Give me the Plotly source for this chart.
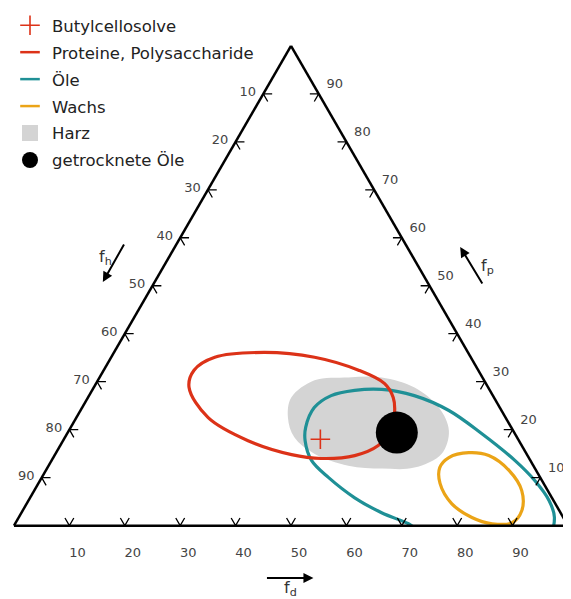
import plotly.graph_objects as go

# ---------------- data (percent; fh = 100 - fd - fp) ----------------
tick_values = [10, 20, 30, 40, 50, 60, 70, 80, 90]
tick_labels = [str(t) for t in tick_values]

butyl_fd = [46.3]
butyl_fp = [18.0]

dried_oil_fd = [59.4]
dried_oil_fp = [19.4]

protein_fd = [58.1, 57.4, 54.2, 48.5, 42.7, 33.4, 23.8, 17.2, 16.3, 18.7, 27.1, 36.7, 46.0, 52.1, 55.1, 56.9, 58.1]
protein_fp = [19.8, 16.7, 14.6, 14.0, 14.8, 17.7, 22.5, 28.8, 32.4, 35.1, 36.1, 35.1, 32.4, 29.6, 26.7, 23.6, 19.8]

oil_fd = [88.3, 80.0, 72.5, 71.0, 65.0, 58.6, 51.8, 46.9, 43.7, 42.4, 41.9, 43.7, 47.4, 52.2, 58.7, 66.5,
          74.8, 83.6, 89.3, 94.0, 96.7, 97.7, 95.2, 88.3]
oil_fp = [-5.8, -3.8, -0.4, 0.4, 2.7, 5.8, 10.0, 13.6, 17.7, 20.5, 24.6, 27.1, 28.2, 28.4, 27.1, 24.0,
          19.2, 13.6, 9.4, 5.2, 1.7, -2.1, -5.2, -5.8]

wax_fd = [74.5, 78.4, 83.6, 88.0, 90.1, 89.6, 86.1, 81.8, 76.7, 72.5, 70.8, 71.4, 74.5]
wax_fp = [15.2, 14.6, 11.5, 7.3, 3.1, 0.6, 0.4, 1.7, 4.6, 8.8, 12.1, 14.2, 15.2]

resin_fd = [36.7, 39.1, 44.9, 50.9, 57.9, 64.4, 68.6, 69.7, 66.2, 60.5, 54.1, 46.7, 41.4, 38.2, 36.7]
resin_fp = [26.7, 30.3, 30.9, 30.9, 28.8, 24.6, 19.8, 15.0, 12.1, 11.9, 12.5, 15.0, 18.4, 22.5, 26.7]

# ---------------- styling constants ----------------
RED = "#dc3218"
TEAL = "#1f9096"
ORANGE = "#eba417"
GREY = "#d4d4d4"
FONT = "DejaVu Sans, Liberation Sans, Arial, sans-serif"
CHEV = 1.6          # chevron arm length (ternary units)
PAGE = 8            # default page margin around the figure
W, H = 571 - PAGE, 599 - PAGE


def fh_of(fd, fp):
    return [None if (d is None or p is None) else 100 - d - p for d, p in zip(fd, fp)]


def tern(fd, fp, **kw):
    return go.Scatterternary(a=fp, b=fh_of(fd, fp), c=fd, **kw)


fig = go.Figure()

# Harz (filled region)
fig.add_trace(tern(resin_fd, resin_fp, mode="lines", fill="toself", fillcolor=GREY,
                   line=dict(color=GREY, width=0, shape="spline"), showlegend=False,
                   hoverinfo="skip"))
# Öle
fig.add_trace(tern(oil_fd, oil_fp, mode="lines", line=dict(color=TEAL, width=3.2, shape="spline"),
                   showlegend=False, hoverinfo="skip"))
# Proteine, Polysaccharide
fig.add_trace(tern(protein_fd, protein_fp, mode="lines", line=dict(color=RED, width=3.2, shape="spline"),
                   showlegend=False, hoverinfo="skip"))
# Wachs
fig.add_trace(tern(wax_fd, wax_fp, mode="lines", line=dict(color=ORANGE, width=3.2, shape="spline"),
                   showlegend=False, hoverinfo="skip"))

# chevron ticks on the three edges
ch_fd, ch_fp = [], []
for t in tick_values:
    # bottom edge (fd)
    ch_fd += [t, t, t - CHEV, None]
    ch_fp += [CHEV, 0, CHEV, None]
    # left edge (fh = t, fd = 0)
    ch_fd += [CHEV, 0, CHEV, None]
    ch_fp += [100 - t, 100 - t, 100 - t - CHEV, None]
    # right edge (fp = t, fh = 0)
    ch_fd += [100 - t - CHEV, 100 - t, 100 - t, None]
    ch_fp += [t, t, t - CHEV, None]
fig.add_trace(tern(ch_fd, ch_fp, mode="lines", line=dict(color="black", width=1.3),
                   connectgaps=False, showlegend=False, hoverinfo="skip"))

# Butylcellosolve
fig.add_trace(tern(butyl_fd, butyl_fp, mode="markers", name="Butylcellosolve",
                   marker=dict(symbol="cross-thin", size=14, line=dict(color=RED, width=1.6)),
                   legendgroup="g1", legendrank=1))
# getrocknete Öle
fig.add_trace(tern(dried_oil_fd, dried_oil_fp, mode="markers", name="getrocknete Öle",
                   marker=dict(symbol="circle", size=42, color="black"),
                   legendgroup="g6", legendrank=6))

# legend proxies
for name, col, sym, rank in [("Proteine, Polysaccharide", RED, "line-ew", 2),
                             ("Öle", TEAL, "line-ew", 3),
                             ("Wachs", ORANGE, "line-ew", 4)]:
    fig.add_trace(go.Scatterternary(a=[None], b=[None], c=[None], mode="markers", name=name,
                                    marker=dict(symbol=sym, size=14, line=dict(color=col, width=2.5)),
                                    legendgroup="g%d" % rank, legendrank=rank))
fig.add_trace(go.Scatterternary(a=[None], b=[None], c=[None], mode="markers", name="Harz",
                                marker=dict(symbol="square", size=20, color=GREY),
                                legendgroup="g5", legendrank=5))


def axis_style(pos_vals, ticklen):
    # each edge is labelled with the component whose vertex lies at its clockwise end
    return dict(showline=True, linecolor="black", linewidth=2.5, showgrid=False, min=0,
                title=dict(text=""), ticks="outside", ticklen=ticklen, tickcolor="rgba(0,0,0,0)",
                tickvals=pos_vals, ticktext=tick_labels,
                tickfont=dict(size=13, color="#444", family=FONT))


# left edge: fh = 100 - fp ; bottom edge: fd = 100 - fh ; right edge: fp = 100 - fd
a_ax = axis_style([100 - t for t in tick_values], 4)
b_ax = axis_style([100 - t for t in tick_values], 16)
c_ax = axis_style([100 - t for t in tick_values], 9)

ann = []


def px(x, y):
    return (x - PAGE) / W, 1 - (y - PAGE) / H


def arrow(hx, hy, ax, ay):
    x, y = px(hx, hy)
    ann.append(dict(x=x, y=y, xref="paper", yref="paper", ax=ax, ay=ay, text="",
                    showarrow=True, arrowhead=2, arrowsize=1, arrowwidth=2, arrowcolor="black"))


def label(lx, ly, txt, xa, ya):
    x, y = px(lx, ly)
    ann.append(dict(x=x, y=y, xref="paper", yref="paper", text=txt, showarrow=False,
                    xanchor=xa, yanchor=ya,
                    font=dict(size=16, color="#333", family=FONT)))


arrow(313, 578, -48, 0)
label(290, 576, "f<sub>d</sub>", "center", "top")
arrow(102, 282, 22, -39)
label(113, 257, "f<sub>h</sub>", "right", "middle")
arrow(460, 247, 23, 38)
label(479, 267, "f<sub>p</sub>", "left", "middle")

dx0, dy0 = px(13, 526)
dx1, dy1 = px(568, 45.5)

fig.update_layout(
    width=W, height=H, autosize=False,
    margin=dict(l=0, r=0, t=0, b=0),
    paper_bgcolor="white",
    font=dict(family=FONT, color="#222"),
    ternary=dict(sum=100, bgcolor="white", aaxis=a_ax, baxis=b_ax, caxis=c_ax,
                 domain=dict(x=[dx0, dx1], y=[dy0, dy1])),
    showlegend=True,
    legend=dict(x=-0.002, y=1, xanchor="left", yanchor="top", bgcolor="rgba(0,0,0,0)",
                font=dict(size=16.5, color="#222", family=FONT), tracegroupgap=2.5, itemwidth=34,
                itemclick=False, itemdoubleclick=False),
    annotations=ann,
)

fig.write_html("out.html")
